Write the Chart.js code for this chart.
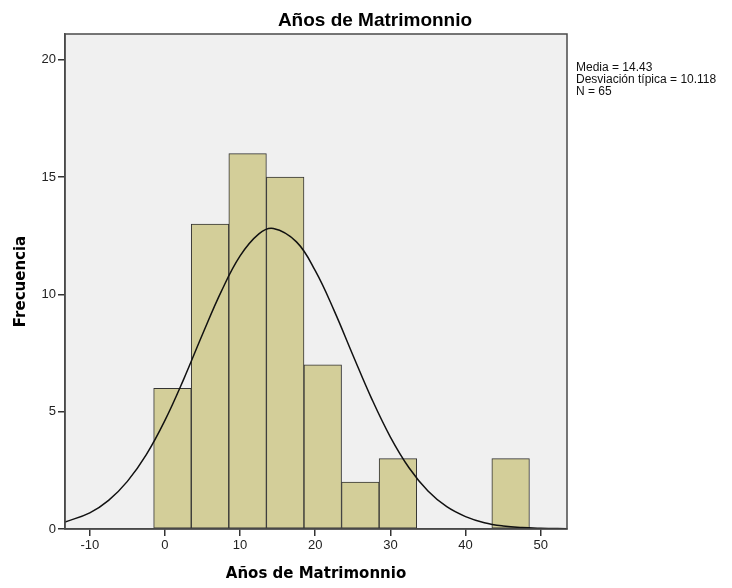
<!DOCTYPE html>
<html>
<head>
<meta charset="utf-8">
<script src="https://cdn.jsdelivr.net/npm/chart.js@4.4.0/dist/chart.umd.min.js"></script>
<style>
  html, body { margin: 0; padding: 0; background: #fff; }
</style>
</head>
<body>
<canvas id="hist" width="732" height="588"></canvas>
<script>
'use strict';

// histogram bins (width 5), centre of each bin
const binCenters = [1, 6, 11, 16, 21, 26, 31, 36, 41, 46];
const frequencies = [6, 13, 16, 15, 7, 2, 3, 0, 0, 3];

// normal curve
const curveX = [-13.3, -10, -7.5, -5, -2.5, 0, 2.5, 5, 7.5, 10, 12.5, 14.43, 17.5, 20, 22.5, 25, 27.5, 30, 32.5, 35, 37.5, 40, 42.5, 45, 47.5, 50, 53.5];
const curveY = [0.30, 0.69, 1.22, 2.03, 3.16, 4.63, 6.39, 8.30, 10.13, 11.64, 12.58, 12.81, 12.24, 11.01, 9.32, 7.42, 5.56, 3.92, 2.60, 1.62, 0.95, 0.53, 0.27, 0.13, 0.06, 0.03, 0.01];

const xTicks = [-10, 0, 10, 20, 30, 40, 50];
const yTicks = [0, 5, 10, 15, 20];

const chartTitle = 'Años de Matrimonnio';
const statsLines = ['Media = 14.43', 'Desviación típica = 10.118', 'N = 65'];

const FONT = '"Liberation Sans", Arial, sans-serif';
const AXIS_FONT = '"DejaVu Sans", Verdana, sans-serif';

const framePlugin = {
    id: 'frame',
    beforeDraw(chart) {
        const a = chart.chartArea;
        const ctx = chart.ctx;
        ctx.save();
        ctx.fillStyle = '#f0f0f0';
        ctx.fillRect(a.left, a.top, a.right - a.left, a.bottom - a.top);
        ctx.restore();
    },
    afterDraw(chart) {
        const a = chart.chartArea;
        const ctx = chart.ctx;
        ctx.save();
        ctx.strokeStyle = '#4a4a4a';
        ctx.lineWidth = 1.5;
        ctx.strokeRect(a.left, a.top, a.right - a.left, a.bottom - a.top);

        ctx.fillStyle = '#000';
        ctx.font = 'bold 19px ' + FONT;
        ctx.textAlign = 'center';
        ctx.textBaseline = 'alphabetic';
        ctx.fillText(chartTitle, 375, 26);

        ctx.fillStyle = '#111';
        ctx.font = '12px ' + FONT;
        ctx.textAlign = 'left';
        statsLines.forEach((t, i) => ctx.fillText(t, a.right + 9, 71 + i * 12));
        ctx.restore();
    }
};

const ctx = document.getElementById('hist');

new Chart(ctx, {
    type: 'bar',
    data: {
        datasets: [
            {
                type: 'line',
                data: curveX.map((x, i) => ({ x: x, y: curveY[i] })),
                borderColor: '#111',
                borderWidth: 1.5,
                pointRadius: 0,
                tension: 0.4,
                fill: false,
                order: 0
            },
            {
                type: 'bar',
                data: binCenters.map((x, i) => ({ x: x, y: frequencies[i] })),
                backgroundColor: '#d3ce99',
                borderColor: '#333',
                borderWidth: 1,
                borderSkipped: false,
                barPercentage: 1,
                categoryPercentage: 1,
                order: 1
            }
        ]
    },
    options: {
        responsive: false,
        animation: false,
        devicePixelRatio: 1,
        layout: { padding: { top: 34, right: 165, left: 0, bottom: 0 } },
        plugins: {
            legend: { display: false },
            tooltip: { enabled: false }
        },
        scales: {
            x: {
                type: 'linear',
                min: -13.3,
                max: 53.5,
                offset: false,
                afterBuildTicks: s => { s.ticks = xTicks.map(v => ({ value: v })); },
                afterFit: s => { s.height = 59; },
                ticks: { color: '#222', font: { family: FONT, size: 13 }, padding: 2 },
                grid: { offset: false, drawOnChartArea: false, drawTicks: true, tickLength: 7, color: '#333', lineWidth: 1.5 },
                border: { display: true, color: '#4a4a4a', width: 1.5 },
                title: { display: true, text: 'Años de Matrimonnio', color: '#000', font: { family: AXIS_FONT, size: 15, weight: 'bold' }, padding: 5 }
            },
            y: {
                min: 0,
                max: 21.1,
                afterBuildTicks: s => { s.ticks = yTicks.map(v => ({ value: v })); },
                afterFit: s => { s.width = 65; },
                ticks: { color: '#222', font: { family: FONT, size: 13 }, padding: 2 },
                grid: { drawOnChartArea: false, drawTicks: true, tickLength: 7, color: '#333', lineWidth: 1.5 },
                border: { display: true, color: '#4a4a4a', width: 1.5 },
                title: { display: true, text: 'Frecuencia', color: '#000', font: { family: AXIS_FONT, size: 15, weight: 'bold' }, padding: 12 }
            }
        }
    },
    plugins: [framePlugin]
});
</script>
</body>
</html>
